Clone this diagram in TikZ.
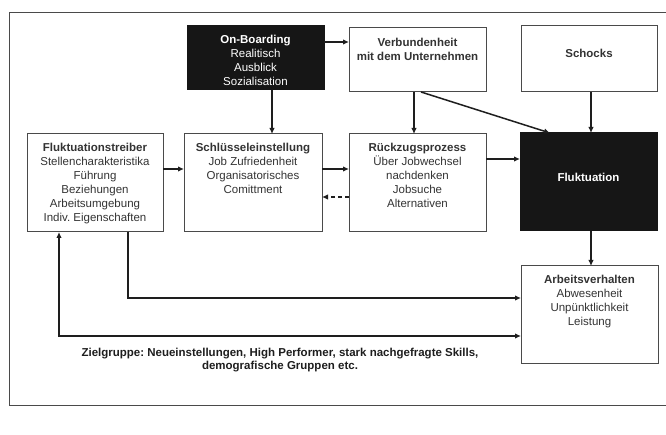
\documentclass[tikz,border=0pt]{standalone}
\usepackage{fontspec}
\setmainfont{Liberation Sans}
\usetikzlibrary{arrows.meta,calc}
\definecolor{linec}{HTML}{1E1E1E}
\definecolor{boxc}{HTML}{4A4A4A}
\definecolor{txtc}{HTML}{333333}
\definecolor{darkfill}{HTML}{161616}
\frenchspacing
\begin{document}
\begin{tikzpicture}[x=1pt,y=-1pt,
 box/.style={draw=boxc,line width=1pt,anchor=north west,inner sep=0pt,outer sep=0pt},
 darkbox/.style={box,fill=darkfill,draw=darkfill},
 btxt/.style={anchor=north,inner sep=0pt,align=center,text=txtc,font=\fontsize{11.5}{14}\selectfont\frenchspacing},
 wtxt/.style={btxt,text=white},
 arr/.style={draw=linec,line width=1.5pt,-{Latex[length=6pt,width=5.5pt]}},
 darr/.style={draw=linec,line width=1.5pt,{Latex[length=6pt,width=5.5pt]}-{Latex[length=6pt,width=5.5pt]}},
 frame/.style={draw=boxc,line width=1pt}
]
\useasboundingbox (0,0) rectangle (666,435);
\draw[frame] (666,13) -- (9,13) -- (9,405) -- (666,405);

% boxes
\node[darkbox,minimum width=137pt,minimum height=64pt] (ob) at (187,26) {};
\node[box,minimum width=137pt,minimum height=64pt] (vb) at (349,28) {};
\node[box,minimum width=136pt,minimum height=66pt] (sc) at (521,26) {};
\node[box,minimum width=136pt,minimum height=98pt] (ft) at (27,134) {};
\node[box,minimum width=138pt,minimum height=98pt] (sl) at (184,134) {};
\node[box,minimum width=137pt,minimum height=98pt] (rz) at (349,134) {};
\node[darkbox,minimum width=137pt,minimum height=98pt] (fl) at (520,133) {};
\node[box,minimum width=137pt,minimum height=97pt] (av) at (521,266) {};

% texts
\node[wtxt] (obt) at ([yshift=-8.5pt]ob.north) {\textbf{On-Boarding}\\Realitisch\\Ausblick\\Sozialisation};
\node[btxt] (vbt) at ([yshift=-9.5pt]vb.north) {\textbf{Verbundenheit}\\\textbf{mit dem Unternehmen}};
\node[btxt,anchor=base] (sct) at ([yshift=-32pt]sc.north) {\textbf{Schocks}};
\node[btxt] (ftt) at ([yshift=-8.5pt]ft.north) {\textbf{Fluktuationstreiber}\\Stellencharakteristika\\Führung\\Beziehungen\\Arbeitsumgebung\\Indiv. Eigenschaften};
\node[btxt] (slt) at ([yshift=-8.5pt]sl.north) {\textbf{Schlüsseleinstellung}\\Job Zufriedenheit\\Organisatorisches\\Comittment};
\node[btxt] (rzt) at ([yshift=-8.5pt]rz.north) {\textbf{Rückzugsprozess}\\Über Jobwechsel\\nachdenken\\Jobsuche\\Alternativen};
\node[wtxt,anchor=base] (flt) at (fl.center) {\textbf{Fluktuation}};
\node[btxt] (avt) at ([yshift=-9pt]av.north) {\textbf{Arbeitsverhalten}\\Abwesenheit\\Unpünktlichkeit\\Leistung};
\node[btxt,font=\fontsize{11.5}{13}\selectfont\bfseries\frenchspacing,text=linec] (zg) at (280,348) {Zielgruppe: Neueinstellungen, High Performer, stark nachgefragte Skills,\\demografische Gruppen etc.};

% connectors
\draw[arr] ([xshift=16.5pt]ob.south) -- ([xshift=16.5pt]ob.south |- sl.north);
\draw[arr] ([yshift=16pt]ob.east) -- ([yshift=16pt]ob.east -| vb.west);
\draw[arr] ([xshift=-3.5pt]vb.south) -- ([xshift=-3.5pt]vb.south |- rz.north);
\draw[arr] ([xshift=3.5pt]vb.south) -- ([xshift=-38.5pt]fl.north);
\draw[arr] ([xshift=2pt]sc.south) -- ([xshift=2pt]sc.south |- fl.north);
\draw[arr] ([xshift=2.5pt]fl.south) -- ([xshift=2.5pt]fl.south |- av.north);
\draw[arr] ([yshift=14pt]ft.east) -- ([yshift=14pt]ft.east -| sl.west);
\draw[arr] ([yshift=14pt]sl.east) -- ([yshift=14pt]sl.east -| rz.west);
\draw[arr,dashed,dash pattern=on 4pt off 3pt] ([yshift=-14pt]rz.west) -- ([yshift=-14pt]rz.west -| sl.east);
\draw[arr] ([yshift=24pt]rz.east) -- ([yshift=24pt]rz.east -| fl.west);
\draw[arr] ([xshift=33pt]ft.south) |- ([yshift=16.5pt]av.west);
\draw[darr] ([yshift=-21.5pt]av.west) -| ([xshift=-36pt]ft.south);
\end{tikzpicture}
\end{document}
